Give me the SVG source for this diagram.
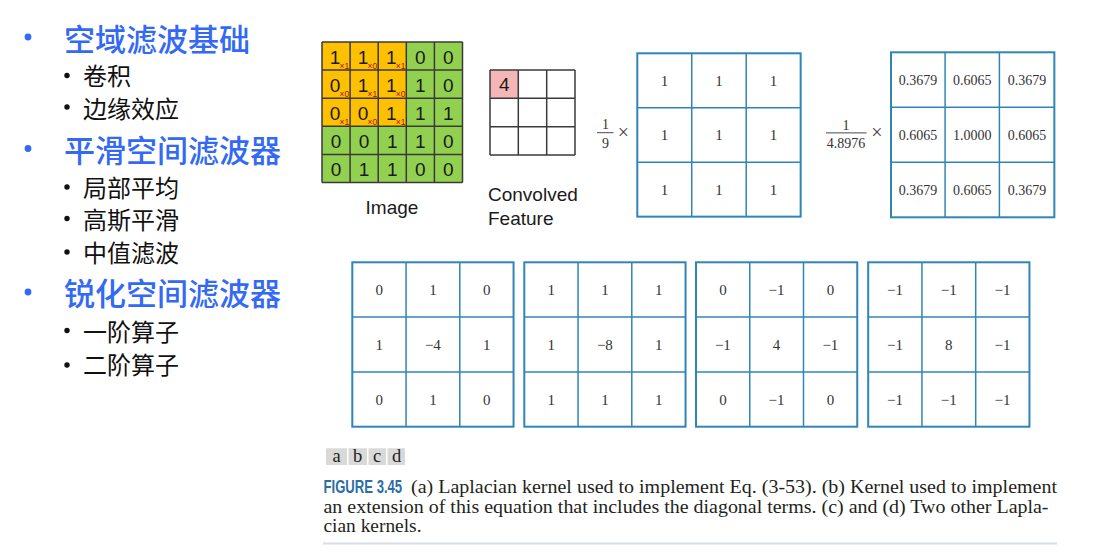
<svg xmlns="http://www.w3.org/2000/svg" width="1113" height="556" viewBox="0 0 1113 556">
<style>
.t1{font-family:"Liberation Sans","Noto Sans CJK SC",sans-serif;font-size:31px;font-weight:500;fill:#3369F5}
.t2{font-family:"Liberation Sans","Noto Sans CJK SC",sans-serif;font-size:24px;fill:#111}
.bb{fill:#3369F5}
.sb{fill:#111}
.g line{stroke:#3a3a3a;stroke-width:1.5}
.gd{font-family:"Liberation Sans",sans-serif;font-size:19px;fill:#1a1a1a;text-anchor:middle}
.gs{font-family:"Liberation Sans",sans-serif;font-size:8.5px;fill:#B01010}
.lab{font-family:"Liberation Sans",sans-serif;font-size:19px;fill:#1a1a1a}
.k rect{fill:#fff;stroke:#2F86B6;stroke-width:2}
.k line{stroke:#2F86B6;stroke-width:1.5}
.kn{font-family:"Liberation Serif",serif;font-size:15px;fill:#333;text-anchor:middle}
.kg{font-family:"Liberation Serif",serif;font-size:14px;fill:#333;text-anchor:middle}
.fr{font-family:"Liberation Serif",serif;font-size:14px;fill:#333;text-anchor:middle}
.x{font-family:"Liberation Serif",serif;font-size:20px;fill:#444;text-anchor:middle}
.cap{font-family:"Liberation Serif",serif;font-size:18.5px;fill:#231F20}
</style>
<rect width="1113" height="556" fill="#fff"/>

<g id="outline">
  <circle class="bb" cx="28" cy="37" r="3.4"/>
  <text class="t1" x="64" y="51">空域滤波基础</text>
  <circle class="sb" cx="67" cy="75.5" r="2.7"/>
  <text class="t2" x="83" y="85">卷积</text>
  <circle class="sb" cx="67" cy="107" r="2.7"/>
  <text class="t2" x="83" y="118">边缘效应</text>
  <circle class="bb" cx="28" cy="148.5" r="3.4"/>
  <text class="t1" x="64" y="161.5">平滑空间滤波器</text>
  <circle class="sb" cx="67" cy="187" r="2.7"/>
  <text class="t2" x="83" y="196.5">局部平均</text>
  <circle class="sb" cx="67" cy="218.5" r="2.7"/>
  <text class="t2" x="83" y="229">高斯平滑</text>
  <circle class="sb" cx="67" cy="252" r="2.7"/>
  <text class="t2" x="83" y="261.5">中值滤波</text>
  <circle class="bb" cx="28" cy="292" r="3.4"/>
  <text class="t1" x="64" y="305">锐化空间滤波器</text>
  <circle class="sb" cx="67" cy="330.5" r="2.7"/>
  <text class="t2" x="83" y="340.5">一阶算子</text>
  <circle class="sb" cx="67" cy="365" r="2.7"/>
  <text class="t2" x="83" y="374">二阶算子</text>
</g>

<g id="image-grid" class="g">
  <rect x="322" y="42" width="140.5" height="140.5" fill="#92D050"/>
  <rect x="322" y="42" width="84.3" height="84.3" fill="#FFC000"/>
  <line x1="322" y1="42" x2="322" y2="182.5"/>
  <line x1="350.1" y1="42" x2="350.1" y2="182.5"/>
  <line x1="378.2" y1="42" x2="378.2" y2="182.5"/>
  <line x1="406.3" y1="42" x2="406.3" y2="182.5"/>
  <line x1="434.4" y1="42" x2="434.4" y2="182.5"/>
  <line x1="462.5" y1="42" x2="462.5" y2="182.5"/>
  <line x1="322" y1="42" x2="462.5" y2="42"/>
  <line x1="322" y1="70.1" x2="462.5" y2="70.1"/>
  <line x1="322" y1="98.2" x2="462.5" y2="98.2"/>
  <line x1="322" y1="126.3" x2="462.5" y2="126.3"/>
  <line x1="322" y1="154.4" x2="462.5" y2="154.4"/>
  <line x1="322" y1="182.5" x2="462.5" y2="182.5"/>
  <text class="gd" x="335" y="63.5">1</text><text class="gd" x="363.1" y="63.5">1</text><text class="gd" x="391.2" y="63.5">1</text><text class="gd" x="420.3" y="63.5">0</text><text class="gd" x="448.4" y="63.5">0</text>
  <text class="gd" x="335" y="91.6">0</text><text class="gd" x="363.1" y="91.6">1</text><text class="gd" x="391.2" y="91.6">1</text><text class="gd" x="420.3" y="91.6">1</text><text class="gd" x="448.4" y="91.6">0</text>
  <text class="gd" x="335" y="119.7">0</text><text class="gd" x="363.1" y="119.7">0</text><text class="gd" x="391.2" y="119.7">1</text><text class="gd" x="420.3" y="119.7">1</text><text class="gd" x="448.4" y="119.7">1</text>
  <text class="gd" x="336" y="147.8">0</text><text class="gd" x="364.1" y="147.8">0</text><text class="gd" x="392.2" y="147.8">1</text><text class="gd" x="420.3" y="147.8">1</text><text class="gd" x="448.4" y="147.8">0</text>
  <text class="gd" x="336" y="175.9">0</text><text class="gd" x="364.1" y="175.9">1</text><text class="gd" x="392.2" y="175.9">1</text><text class="gd" x="420.3" y="175.9">0</text><text class="gd" x="448.4" y="175.9">0</text>
  <text class="gs" x="339.5" y="68.8">×1</text><text class="gs" x="367.6" y="68.8">×0</text><text class="gs" x="395.7" y="68.8">×1</text>
  <text class="gs" x="339.5" y="96.9">×0</text><text class="gs" x="367.6" y="96.9">×1</text><text class="gs" x="395.7" y="96.9">×0</text>
  <text class="gs" x="339.5" y="125">×1</text><text class="gs" x="367.6" y="125">×0</text><text class="gs" x="395.7" y="125">×1</text>
  <text class="lab" x="392" y="213.5" text-anchor="middle">Image</text>
</g>

<g id="convolved-feature" class="g">
  <rect x="490" y="70" width="85" height="85" fill="#fff"/>
  <rect x="490" y="70" width="28.3" height="28.3" fill="#F4B6B6"/>
  <line x1="490" y1="70" x2="490" y2="155"/>
  <line x1="518.3" y1="70" x2="518.3" y2="155"/>
  <line x1="546.7" y1="70" x2="546.7" y2="155"/>
  <line x1="575" y1="70" x2="575" y2="155"/>
  <line x1="490" y1="70" x2="575" y2="70"/>
  <line x1="490" y1="98.3" x2="575" y2="98.3"/>
  <line x1="490" y1="126.7" x2="575" y2="126.7"/>
  <line x1="490" y1="155" x2="575" y2="155"/>
  <text class="gd" x="504.2" y="90.5">4</text>
  <text class="lab" x="488" y="200.5">Convolved</text>
  <text class="lab" x="488" y="225">Feature</text>
</g>

<g id="kernel-average">
  <text class="fr" x="605.5" y="128.5">1</text>
  <line x1="597" y1="132.7" x2="613.5" y2="132.7" stroke="#333" stroke-width="0.9"/>
  <text class="fr" x="605.5" y="147.5">9</text>
  <text class="x" x="623.5" y="138.5">×</text>
  <g class="k" transform="translate(637.3,53.3)">
    <rect x="0" y="0" width="163.35" height="163.35"/>
    <line x1="54.45" y1="0" x2="54.45" y2="163.35"/>
    <line x1="108.9" y1="0" x2="108.9" y2="163.35"/>
    <line x1="0" y1="54.45" x2="163.35" y2="54.45"/>
    <line x1="0" y1="108.9" x2="163.35" y2="108.9"/>
    <text class="kn" x="27.2" y="32.5">1</text><text class="kn" x="81.7" y="32.5">1</text><text class="kn" x="136.1" y="32.5">1</text>
    <text class="kn" x="27.2" y="87">1</text><text class="kn" x="81.7" y="87">1</text><text class="kn" x="136.1" y="87">1</text>
    <text class="kn" x="27.2" y="141.4">1</text><text class="kn" x="81.7" y="141.4">1</text><text class="kn" x="136.1" y="141.4">1</text>
  </g>
</g>

<g id="kernel-gaussian">
  <text class="fr" x="846" y="129.5">1</text>
  <line x1="826" y1="132.9" x2="866.5" y2="132.9" stroke="#333" stroke-width="0.9"/>
  <text class="fr" x="846" y="147.5">4.8976</text>
  <text class="x" x="877" y="138.5">×</text>
  <g class="k" transform="translate(891,52.3)">
    <rect x="0" y="0" width="163.35" height="165"/>
    <line x1="54.1" y1="0" x2="54.1" y2="165"/>
    <line x1="108.4" y1="0" x2="108.4" y2="165"/>
    <line x1="0" y1="55" x2="163.35" y2="55"/>
    <line x1="0" y1="110" x2="163.35" y2="110"/>
    <text class="kg" x="27.1" y="32.5">0.3679</text><text class="kg" x="81.3" y="32.5">0.6065</text><text class="kg" x="135.9" y="32.5">0.3679</text>
    <text class="kg" x="27.1" y="87.5">0.6065</text><text class="kg" x="81.3" y="87.5">1.0000</text><text class="kg" x="135.9" y="87.5">0.6065</text>
    <text class="kg" x="27.1" y="142.5">0.3679</text><text class="kg" x="81.3" y="142.5">0.6065</text><text class="kg" x="135.9" y="142.5">0.3679</text>
  </g>
</g>

<g id="kernel-a" class="k" transform="translate(352.3,262.3)">
  <rect x="0" y="0" width="161.25" height="164.4"/>
  <line x1="53.75" y1="0" x2="53.75" y2="164.4"/>
  <line x1="107.5" y1="0" x2="107.5" y2="164.4"/>
  <line x1="0" y1="54.8" x2="161.25" y2="54.8"/>
  <line x1="0" y1="109.6" x2="161.25" y2="109.6"/>
  <text class="kn" x="26.9" y="32.7">0</text><text class="kn" x="80.6" y="32.7">1</text><text class="kn" x="134.4" y="32.7">0</text>
  <text class="kn" x="26.9" y="87.5">1</text><text class="kn" x="80.6" y="87.5">−4</text><text class="kn" x="134.4" y="87.5">1</text>
  <text class="kn" x="26.9" y="142.3">0</text><text class="kn" x="80.6" y="142.3">1</text><text class="kn" x="134.4" y="142.3">0</text>
</g>

<g id="kernel-b" class="k" transform="translate(524.3,262.3)">
  <rect x="0" y="0" width="161.25" height="164.4"/>
  <line x1="53.75" y1="0" x2="53.75" y2="164.4"/>
  <line x1="107.5" y1="0" x2="107.5" y2="164.4"/>
  <line x1="0" y1="54.8" x2="161.25" y2="54.8"/>
  <line x1="0" y1="109.6" x2="161.25" y2="109.6"/>
  <text class="kn" x="26.9" y="32.7">1</text><text class="kn" x="80.6" y="32.7">1</text><text class="kn" x="134.4" y="32.7">1</text>
  <text class="kn" x="26.9" y="87.5">1</text><text class="kn" x="80.6" y="87.5">−8</text><text class="kn" x="134.4" y="87.5">1</text>
  <text class="kn" x="26.9" y="142.3">1</text><text class="kn" x="80.6" y="142.3">1</text><text class="kn" x="134.4" y="142.3">1</text>
</g>

<g id="kernel-c" class="k" transform="translate(696,262.3)">
  <rect x="0" y="0" width="161.25" height="164.4"/>
  <line x1="53.75" y1="0" x2="53.75" y2="164.4"/>
  <line x1="107.5" y1="0" x2="107.5" y2="164.4"/>
  <line x1="0" y1="54.8" x2="161.25" y2="54.8"/>
  <line x1="0" y1="109.6" x2="161.25" y2="109.6"/>
  <text class="kn" x="26.9" y="32.7">0</text><text class="kn" x="80.6" y="32.7">−1</text><text class="kn" x="134.4" y="32.7">0</text>
  <text class="kn" x="26.9" y="87.5">−1</text><text class="kn" x="80.6" y="87.5">4</text><text class="kn" x="134.4" y="87.5">−1</text>
  <text class="kn" x="26.9" y="142.3">0</text><text class="kn" x="80.6" y="142.3">−1</text><text class="kn" x="134.4" y="142.3">0</text>
</g>

<g id="kernel-d" class="k" transform="translate(868.2,262.3)">
  <rect x="0" y="0" width="161.25" height="164.4"/>
  <line x1="53.75" y1="0" x2="53.75" y2="164.4"/>
  <line x1="107.5" y1="0" x2="107.5" y2="164.4"/>
  <line x1="0" y1="54.8" x2="161.25" y2="54.8"/>
  <line x1="0" y1="109.6" x2="161.25" y2="109.6"/>
  <text class="kn" x="26.9" y="32.7">−1</text><text class="kn" x="80.6" y="32.7">−1</text><text class="kn" x="134.4" y="32.7">−1</text>
  <text class="kn" x="26.9" y="87.5">−1</text><text class="kn" x="80.6" y="87.5">8</text><text class="kn" x="134.4" y="87.5">−1</text>
  <text class="kn" x="26.9" y="142.3">−1</text><text class="kn" x="80.6" y="142.3">−1</text><text class="kn" x="134.4" y="142.3">−1</text>
</g>

<g id="connectors"></g>

<g id="caption">
  <rect x="326" y="448.3" width="21" height="16.7" fill="#D9D9D9"/>
  <rect x="348.5" y="448.3" width="18.5" height="16.7" fill="#D9D9D9"/>
  <rect x="368.5" y="448.3" width="17.5" height="16.7" fill="#D9D9D9"/>
  <rect x="387.5" y="448.3" width="17.5" height="16.7" fill="#D9D9D9"/>
  <text class="cap" x="336.5" y="461.5" text-anchor="middle">a</text>
  <text class="cap" x="357.7" y="461.5" text-anchor="middle">b</text>
  <text class="cap" x="377.2" y="461.5" text-anchor="middle">c</text>
  <text class="cap" x="396.5" y="461.5" text-anchor="middle">d</text>
  <text transform="translate(323.5,493) scale(0.69,1)" x="0" y="0" font-family="'Liberation Sans',sans-serif" font-weight="bold" font-size="19" fill="#2C6EA6">FIGURE 3.45</text>
  <text class="cap" x="411" y="493" textLength="646" lengthAdjust="spacingAndGlyphs">(a) Laplacian kernel used to implement Eq. (3-53). (b) Kernel used to implement</text>
  <text class="cap" x="323.5" y="512.5" textLength="725" lengthAdjust="spacingAndGlyphs">an extension of this equation that includes the diagonal terms. (c) and (d) Two other Lapla-</text>
  <text class="cap" x="323.5" y="532" textLength="98" lengthAdjust="spacingAndGlyphs">cian kernels.</text>
  <line x1="323" y1="543.5" x2="1057" y2="543.5" stroke="#D5DFEB" stroke-width="2"/>
</g>
</svg>
